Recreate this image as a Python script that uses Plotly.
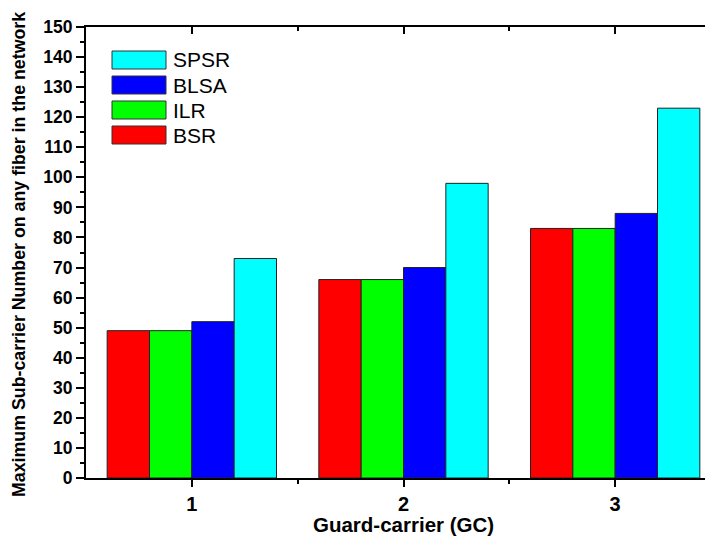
import plotly.graph_objects as go

categories = [1, 2, 3]
tick_labels = ["1", "2", "3"]
series_names = ["BSR", "ILR", "BLSA", "SPSR"]
series_colors = ["#FF0000", "#00FF00", "#0000FF", "#00FFFF"]
bsr = [49, 66, 83]
ilr = [49, 66, 83]
blsa = [52, 70, 88]
spsr = [73, 98, 123]
series_values = [bsr, ilr, blsa, spsr]

FONT = "Liberation Sans, Arial, sans-serif"

fig = go.Figure()
for name, color, vals in zip(series_names, series_colors, series_values):
    fig.add_trace(go.Bar(
        x=categories, y=vals, name=name,
        marker=dict(color=color, line=dict(color="#222222", width=1)),
        showlegend=False,
    ))

# invisible trace to carry the mirror axes (top and right)
fig.add_trace(go.Scatter(x=[None], y=[None], xaxis="x2", yaxis="y2",
                         showlegend=False, hoverinfo="skip"))

OFF = 8  # page body margin
W, H = 713, 539
ml, mr, mt, mb = 78, 0, 19, 69
pw = W - ml - mr
ph = H - mt - mb
xr = [0.5, 3.5]


def px(xv):
    return (xv - OFF - ml) / pw


def py(yv):
    return (H - mb - (yv - OFF)) / ph


tick_common = dict(tickwidth=2, tickcolor="black")

fig.update_layout(
    width=W, height=H,
    margin=dict(l=ml, r=mr, t=mt, b=mb),
    paper_bgcolor="white", plot_bgcolor="white",
    barmode="group", bargap=0.2, bargroupgap=0,
    font=dict(family=FONT, color="black"),
    xaxis=dict(
        range=xr, tickmode="array", tickvals=categories, ticktext=tick_labels,
        showline=True, linewidth=2, linecolor="black",
        ticks="outside", ticklen=7, **tick_common,
        minor=dict(tickmode="array", tickvals=[1.5, 2.5], ticks="outside", ticklen=4, **tick_common),
        tickfont=dict(size=20, family=FONT, weight="bold"),
        showgrid=False, zeroline=False,
    ),
    xaxis2=dict(
        range=xr, overlaying="x", side="top", anchor="y",
        tickmode="array", tickvals=categories, showticklabels=False,
        showline=True, linewidth=2, linecolor="black",
        ticks="inside", ticklen=7, **tick_common,
        minor=dict(tickmode="array", tickvals=[1.5, 2.5], ticks="inside", ticklen=4, **tick_common),
        showgrid=False, zeroline=False,
    ),
    yaxis=dict(
        range=[0, 150], tickmode="linear", tick0=0, dtick=10,
        showline=True, linewidth=2, linecolor="black",
        ticks="outside", ticklen=8, **tick_common,
        minor=dict(dtick=5, ticks="outside", ticklen=4, **tick_common),
        tickfont=dict(size=17.5, family=FONT, weight="bold"),
        showgrid=False, zeroline=False,
    ),
    yaxis2=dict(
        range=[0, 150], overlaying="y", side="right", anchor="x",
        tickmode="linear", tick0=0, dtick=10, showticklabels=False,
        showline=True, linewidth=2, linecolor="black",
        ticks="inside", ticklen=8, **tick_common,
        minor=dict(dtick=5, ticks="inside", ticklen=4, **tick_common),
        showgrid=False, zeroline=False,
    ),
)

# axis titles
fig.add_annotation(
    text="Maximum Sub-carrier Number on any fiber in the network",
    xref="paper", yref="paper", x=px(19), y=py(255),
    xanchor="center", yanchor="middle", textangle=-90, showarrow=False,
    font=dict(size=17.8, family=FONT, weight="bold", color="black"),
)
fig.add_annotation(
    text="Guard-carrier (GC)",
    xref="paper", yref="paper", x=px(403), y=py(524),
    xanchor="center", yanchor="middle", showarrow=False,
    font=dict(size=20.5, family=FONT, weight="bold", color="black"),
)

# legend (reverse order, wide swatches)
legend_order = list(range(len(series_names)))[::-1]
for row, idx in enumerate(legend_order):
    top = 51 + row * 25
    fig.add_shape(
        type="rect", xref="paper", yref="paper",
        x0=px(112), x1=px(166),
        y0=py(top), y1=py(top + 18),
        fillcolor=series_colors[idx], line=dict(color="#333333", width=1),
    )
    fig.add_annotation(
        text=series_names[idx], xref="paper", yref="paper",
        x=px(171), y=py(top + 9),
        xanchor="left", yanchor="middle", showarrow=False,
        font=dict(size=21, family=FONT, color="black"),
    )

fig.write_html("out.html")
